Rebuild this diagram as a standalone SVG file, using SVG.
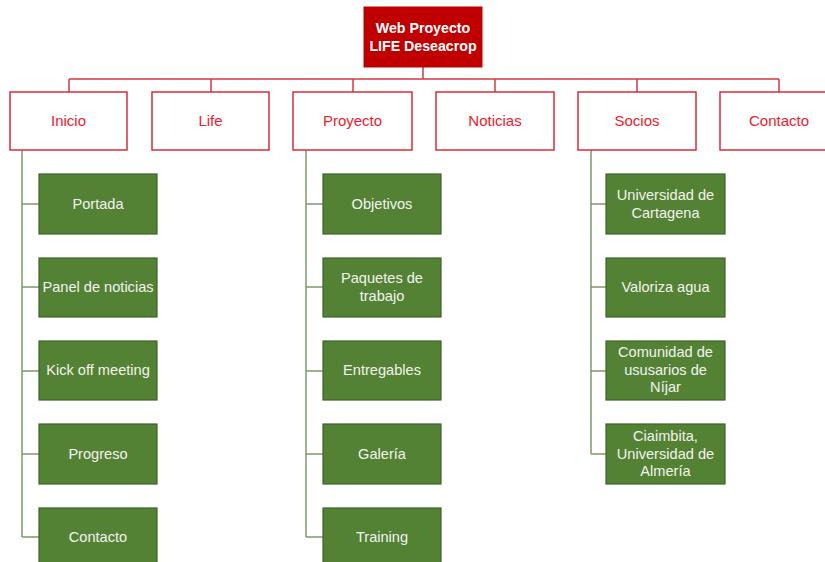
<svg xmlns="http://www.w3.org/2000/svg" width="825" height="562" viewBox="0 0 825 562">
<style>
.bg{fill:#ffffff}
.root rect{fill:#C00000;stroke:#C00000}
.root text{fill:#ffffff;font-family:"Liberation Sans",Arial,sans-serif;font-size:14.2px;font-weight:bold;text-anchor:middle}
.l1 rect{fill:#ffffff;stroke:#DA2D37;stroke-width:1.5}
.l1 text{fill:#F0202E;font-family:"Liberation Sans",Arial,sans-serif;font-size:15px;text-anchor:middle}
.l2 rect{fill:#548235;stroke:#3E6228;stroke-width:1.2}
.l2 text{fill:#F2F2EE;font-family:"Liberation Sans",Arial,sans-serif;font-size:14.6px;text-anchor:middle}
.red{fill:none;stroke:#D23A44;stroke-width:1.5}
.green{fill:none;stroke:#7E9A6C;stroke-width:1.5}
</style>
<rect class="bg" x="0" y="0" width="825" height="562"/>
<g id="connectors">
<path class="red" d="M423 67V79M69 79H779M69 79V92M211 79V92M353 79V92M495 79V92M637 79V92M779 79V92"/>
<path class="green" d="M22 150V537M22 204H39M22 287H39M22 371H39M22 454H39M22 537H39"/>
<path class="green" d="M306 150V537M306 204H323M306 287H323M306 371H323M306 454H323M306 537H323"/>
<path class="green" d="M591 150V454M591 204H606M591 287H606M591 371H606M591 454H606"/>
</g>
<g id="root" class="root"><rect x="364" y="7" width="118" height="60"/><text x="423" y="33">Web Proyecto</text><text x="423" y="51">LIFE Deseacrop</text></g>
<g id="inicio" class="l1"><rect x="10" y="92" width="117" height="58"/><text x="68.5" y="126">Inicio</text></g>
<g id="life" class="l1"><rect x="152" y="92" width="117" height="58"/><text x="210.5" y="126">Life</text></g>
<g id="proyecto" class="l1"><rect x="293" y="92" width="119" height="58"/><text x="352.5" y="126">Proyecto</text></g>
<g id="noticias" class="l1"><rect x="436" y="92" width="118" height="58"/><text x="495" y="126">Noticias</text></g>
<g id="socios" class="l1"><rect x="578" y="92" width="118" height="58"/><text x="637" y="126">Socios</text></g>
<g id="contacto" class="l1"><rect x="720" y="92" width="118" height="58"/><text x="779" y="126">Contacto</text></g>
<g id="portada" class="l2"><rect x="39" y="174" width="118" height="60"/><text x="98" y="209">Portada</text></g>
<g id="panel" class="l2"><rect x="39" y="258" width="118" height="59"/><text x="98" y="292">Panel de noticias</text></g>
<g id="kickoff" class="l2"><rect x="39" y="341" width="118" height="59"/><text x="98" y="375">Kick off meeting</text></g>
<g id="progreso" class="l2"><rect x="39" y="424" width="118" height="60"/><text x="98" y="459">Progreso</text></g>
<g id="contacto2" class="l2"><rect x="39" y="508" width="118" height="60"/><text x="98" y="542">Contacto</text></g>
<g id="objetivos" class="l2"><rect x="323" y="174" width="118" height="60"/><text x="382" y="209">Objetivos</text></g>
<g id="paquetes" class="l2"><rect x="323" y="258" width="118" height="59"/><text x="382" y="283">Paquetes de</text><text x="382" y="300.5">trabajo</text></g>
<g id="entregables" class="l2"><rect x="323" y="341" width="118" height="59"/><text x="382" y="375">Entregables</text></g>
<g id="galeria" class="l2"><rect x="323" y="424" width="118" height="60"/><text x="382" y="459">Galería</text></g>
<g id="training" class="l2"><rect x="323" y="508" width="118" height="60"/><text x="382" y="542">Training</text></g>
<g id="ucartagena" class="l2"><rect x="606" y="174" width="119" height="60"/><text x="665.5" y="200">Universidad de</text><text x="665.5" y="217.5">Cartagena</text></g>
<g id="valoriza" class="l2"><rect x="606" y="258" width="119" height="59"/><text x="665.5" y="292">Valoriza agua</text></g>
<g id="comunidad" class="l2"><rect x="606" y="341" width="119" height="59"/><text x="665.5" y="357">Comunidad de</text><text x="665.5" y="374.5">ususarios de</text><text x="665.5" y="392">Níjar</text></g>
<g id="ciaimbita" class="l2"><rect x="606" y="424" width="119" height="60"/><text x="665.5" y="441">Ciaimbita,</text><text x="665.5" y="458.5">Universidad de</text><text x="665.5" y="476">Almería</text></g>
</svg>
